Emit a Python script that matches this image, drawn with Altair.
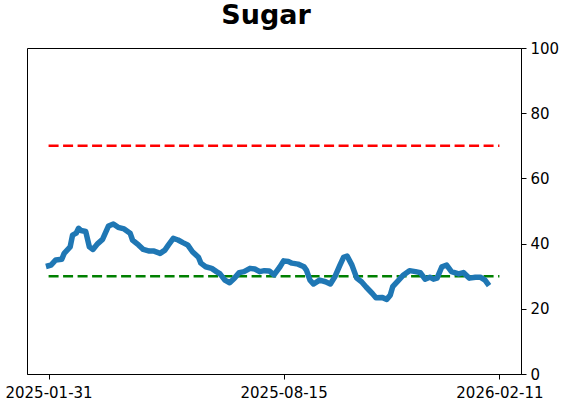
import altair as alt
import pandas as pd

# Day offsets from 2025-01-31 and indicator values
day_offsets = [0, 2, 6, 11, 13, 18, 20, 23, 25, 27,
               31, 34, 37, 41, 45, 50, 54, 58, 63, 68,
               70, 75, 79, 84, 88, 93, 97, 100, 104, 108,
               112, 116, 120, 125, 127, 131, 136, 140, 143, 147,
               151, 155, 159, 163, 168, 172, 176, 180, 184, 188,
               193, 196, 200, 203, 208, 213, 215, 218, 221, 226,
               231, 235, 239, 243, 246, 249, 253, 257, 261, 265,
               270, 273, 278, 282, 285, 287, 292, 296, 301, 306,
               310, 314, 318, 321, 324, 328, 332, 336, 342, 346,
               351, 356, 360, 364, 366]
values = [33.2, 33.4, 35, 35.2, 37, 39, 42.6, 43.2, 44.7, 44,
          43.7, 39, 38.2, 40, 41.3, 45.4, 46, 45, 44.5, 43.2,
          41.1, 39.6, 38.2, 37.7, 37.7, 37, 38, 39.6, 41.6, 41.1,
          40.3, 39.6, 37.5, 35.8, 34, 32.9, 32.4, 31.4, 30.7, 28.8,
          28, 29.4, 31.1, 31.4, 32.4, 32.2, 31.4, 31.7, 31.6, 30.4,
          32.9, 34.7, 34.5, 34, 33.7, 32.9, 31.9, 28.8, 27.6, 28.8,
          28.3, 27.6, 30, 33.4, 35.8, 36.2, 33.4, 29.4, 28.3, 26.6,
          24.7, 23.4, 23.5, 22.9, 24.2, 26.8, 28.8, 30.4, 31.7, 31.4,
          31.1, 29.1, 29.7, 29.1, 29.4, 32.9, 33.4, 31.4, 30.7, 31.1,
          29.4, 29.7, 29.7, 28.8, 27.8]

start_date = "2025-01-31"
tick_dates = ["2025-01-31", "2025-08-15", "2026-02-11"]
domain_dates = ["2025-01-13", "2026-03-01"]

ref_levels = [70, 30]
ref_colors = ["#ff0000", "#008000"]
ref_start = "2025-01-31"
ref_end = "2026-02-11"

base = pd.Timestamp(start_date)
dates = [base + pd.Timedelta(days=d) for d in day_offsets]
df = pd.DataFrame({"date": [d.strftime("%Y-%m-%d") for d in dates], "value": values})

ref_df = pd.DataFrame({
    "start": [ref_start] * len(ref_levels),
    "end": [ref_end] * len(ref_levels),
    "level": ref_levels,
    "color": ref_colors,
})


def ms(s):
    return int(pd.Timestamp(s, tz="UTC").value // 10**6)


x_scale = alt.Scale(type="utc", domain=[ms(d) for d in domain_dates], nice=False)
y_scale = alt.Scale(domain=[0, 100], nice=False)

x_axis = alt.Axis(values=[ms(d) for d in tick_dates], format="%Y-%m-%d", formatType="time",
                  labelAngle=0, labelFlush=False, grid=False, title=None,
                  labelFontSize=15, tickSize=5, labelPadding=6, domainColor="black",
                  tickColor="black", labelColor="black")
y_axis = alt.Axis(values=[0, 20, 40, 60, 80, 100], orient="right", grid=False, title=None,
                  labelFontSize=15, tickSize=5, labelPadding=4, domainColor="black",
                  tickColor="black", labelColor="black")

refs = alt.Chart(ref_df).mark_rule(strokeDash=[10, 4.5], strokeWidth=2.6).encode(
    x=alt.X("start:T", scale=x_scale, axis=x_axis),
    x2="end:T",
    y=alt.Y("level:Q", scale=y_scale, axis=y_axis),
    color=alt.Color("color:N", scale=None),
)

line = alt.Chart(df).mark_line(color="#1f77b4", strokeWidth=5.5, strokeJoin="round", strokeCap="square").encode(
    x=alt.X("date:T", scale=x_scale, axis=x_axis),
    y=alt.Y("value:Q", scale=y_scale, axis=y_axis),
)

chart = alt.layer(refs, line).properties(
    width=494,
    height=326,
    title=alt.TitleParams("Sugar", fontSize=27, fontWeight="bold", font="DejaVu Sans",
                          anchor="middle", offset=11, dx=-8, color="black"),
    autosize=alt.AutoSizeParams(type="none"),
    padding={"left": 27, "top": 48, "right": 41, "bottom": 28},
).configure(font="DejaVu Sans").configure_view(stroke="black", strokeWidth=1)

chart.save("out.html", embed_options={"renderer": "svg", "actions": False})
